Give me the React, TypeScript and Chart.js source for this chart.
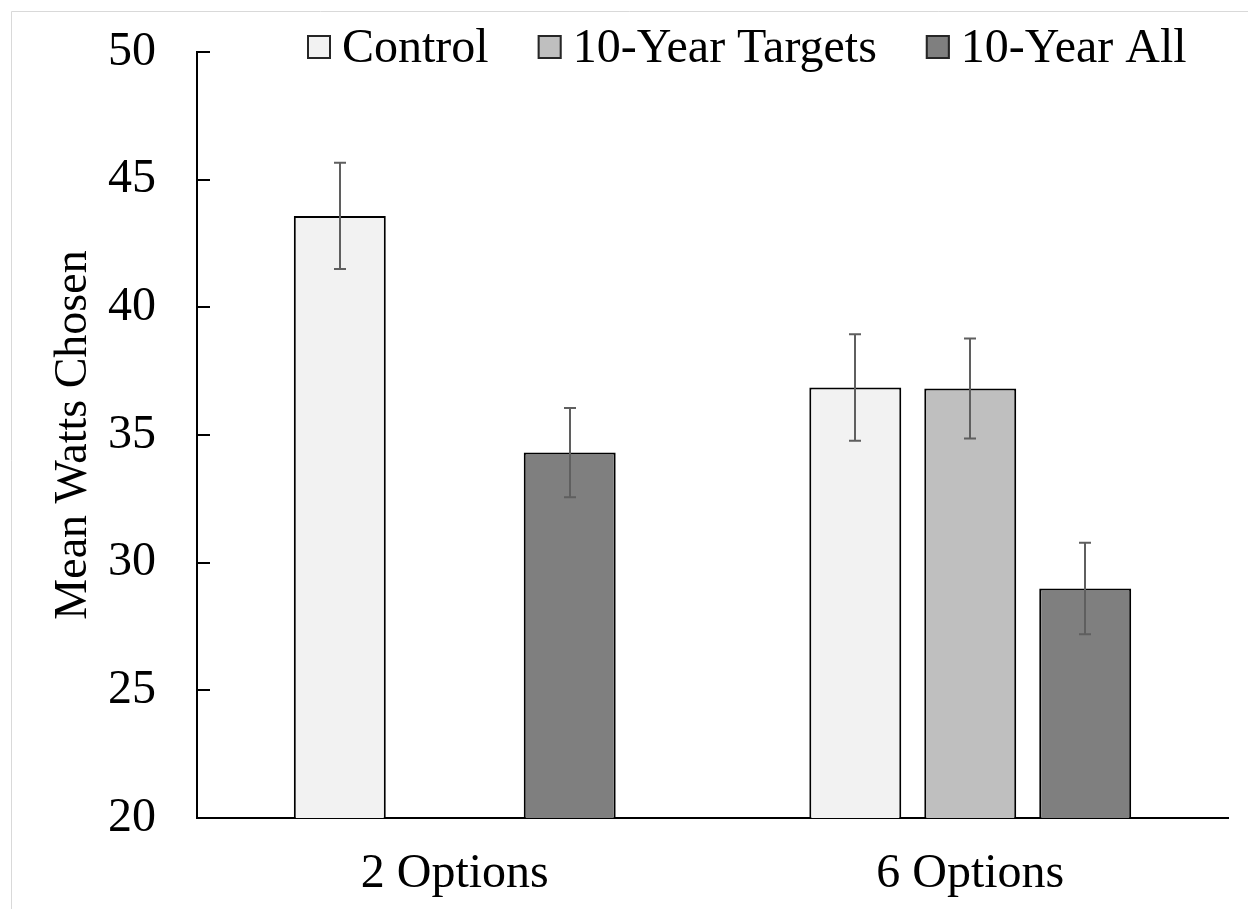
import { useEffect, useRef } from 'react';
import { Chart, registerables } from 'chart.js';

Chart.register(...registerables);

const categories = ['2 Options', '6 Options'];
const seriesNames = ['Control', '10-Year Targets', '10-Year All'];
const controlValues = [43.58, 36.86];
const targetsValues: (number | null)[] = [null, 36.82];
const allValues = [34.31, 28.99];
const controlErrors = [2.08, 2.09];
const targetsErrors: (number | null)[] = [null, 1.96];
const allErrors = [1.75, 1.79];
const seriesColors = ['#f2f2f2', '#bfbfbf', '#7f7f7f'];
const yMin = 20;
const yMax = 50;
const yStep = 5;
const yTitle = 'Mean Watts Chosen';

const FONT = '"Liberation Serif", "Times New Roman", serif';

const framePlugin = {
  id: 'frame',
  beforeDraw(chart: any) {
    const ctx = chart.ctx;
    ctx.save();
    ctx.fillStyle = '#ffffff';
    ctx.fillRect(0, 0, chart.width, chart.height);
    ctx.strokeStyle = '#d9d9d9';
    ctx.lineWidth = 1;
    ctx.beginPath();
    ctx.moveTo(11.5, chart.height);
    ctx.lineTo(11.5, 11.5);
    ctx.lineTo(chart.width, 11.5);
    ctx.stroke();
    ctx.restore();
  },
};

const tickMarksPlugin = {
  id: 'tickMarks',
  afterDraw(chart: any) {
    const ctx = chart.ctx;
    const y = chart.scales.y;
    const left = chart.chartArea.left;
    ctx.save();
    ctx.strokeStyle = '#000000';
    ctx.lineWidth = 2;
    y.ticks.forEach((t: any) => {
      const py = Math.round(y.getPixelForValue(t.value));
      ctx.beginPath();
      ctx.moveTo(left - 1, py);
      ctx.lineTo(left + 13, py);
      ctx.stroke();
    });
    ctx.restore();
  },
};

const errorBarsPlugin = {
  id: 'errorBars',
  afterDatasetsDraw(chart: any) {
    const ctx = chart.ctx;
    const yScale = chart.scales.y;
    ctx.save();
    ctx.strokeStyle = '#5f5f5f';
    ctx.lineWidth = 2;
    chart.data.datasets.forEach((ds: any, di: number) => {
      const meta = chart.getDatasetMeta(di);
      meta.data.forEach((el: any, i: number) => {
        const v = ds.data[i];
        const e = ds.errors[i];
        if (v == null || e == null) return;
        const x = Math.round(el.x);
        const yt = yScale.getPixelForValue(v + e);
        const yb = yScale.getPixelForValue(v - e);
        ctx.beginPath();
        ctx.moveTo(x, yt);
        ctx.lineTo(x, yb);
        ctx.moveTo(x - 6, yt);
        ctx.lineTo(x + 6, yt);
        ctx.moveTo(x - 6, yb);
        ctx.lineTo(x + 6, yb);
        ctx.stroke();
      });
    });
    ctx.restore();
  },
};

const legendPlugin = {
  id: 'customLegend',
  afterDraw(chart: any) {
    const ctx = chart.ctx;
    ctx.save();
    ctx.font = `48px ${FONT}`;
    ctx.textBaseline = 'alphabetic';
    ctx.textAlign = 'left';
    let x = 307;
    const boxTop = 35;
    const boxSize = 24;
    const baseline = 62;
    chart.data.datasets.forEach((ds: any) => {
      ctx.fillStyle = ds.backgroundColor;
      ctx.fillRect(x, boxTop, boxSize, boxSize);
      ctx.strokeStyle = '#262626';
      ctx.lineWidth = 2;
      ctx.strokeRect(x + 1, boxTop + 1, boxSize - 2, boxSize - 2);
      const tx = x + boxSize + 11;
      ctx.fillStyle = '#000000';
      ctx.fillText(ds.label, tx, baseline);
      x = tx + ctx.measureText(ds.label).width + 49;
    });
    ctx.restore();
  },
};

export default function App() {
  const ref = useRef<HTMLCanvasElement | null>(null);

  useEffect(() => {
    document.body.style.margin = '0';
    document.body.style.overflow = 'hidden';
    const canvas = ref.current;
    if (!canvas) return;
    const values = [controlValues, targetsValues, allValues];
    const errors = [controlErrors, targetsErrors, allErrors];
    const chart = new Chart(canvas, {
      type: 'bar',
      data: {
        labels: categories,
        datasets: seriesNames.map((name, i) => ({
          label: name,
          data: values[i] as any,
          errors: errors[i],
          backgroundColor: seriesColors[i],
          borderColor: '#000000',
          borderWidth: 2,
          categoryPercentage: 0.669,
          barPercentage: 0.8,
        })) as any,
      },
      options: {
        responsive: false,
        animation: false,
        devicePixelRatio: 1,
        layout: { padding: { top: 52, right: 20, bottom: 0, left: 0 } },
        plugins: {
          legend: { display: false },
          tooltip: { enabled: false },
          title: { display: false },
        },
        scales: {
          x: {
            grid: { display: false },
            border: { display: true, color: '#000000', width: 2 },
            ticks: {
              color: '#000000',
              font: { family: FONT, size: 48 },
              padding: 20,
            },
            afterFit: (s: any) => {
              s.height = 91;
            },
          },
          y: {
            min: yMin,
            max: yMax,
            grid: { display: false },
            border: { display: true, color: '#000000', width: 2 },
            ticks: {
              stepSize: yStep,
              color: '#000000',
              font: { family: FONT, size: 48, lineHeight: 0.5 },
              padding: 33,
            },
            title: {
              display: true,
              text: yTitle,
              color: '#000000',
              font: { family: FONT, size: 46 },
              padding: { top: 46, bottom: 0 },
            },
            afterFit: (s: any) => {
              s.width = 197;
            },
          },
        },
      },
      plugins: [framePlugin, errorBarsPlugin, tickMarksPlugin, legendPlugin],
    });
    return () => chart.destroy();
  }, []);

  return (
    <div style={{ width: 1248, height: 909 }}>
      <canvas ref={ref} width={1248} height={909} style={{ display: 'block' }} />
    </div>
  );
}
